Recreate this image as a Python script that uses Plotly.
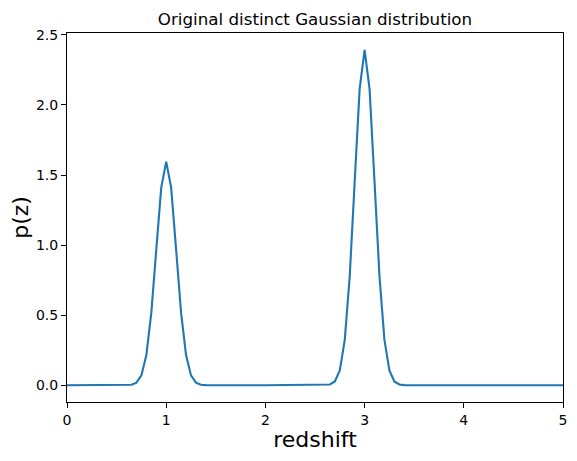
"""Original distinct Gaussian distribution - p(z) vs redshift."""

import plotly.graph_objects as go

# redshift grid, step 0.05 from 0 to 5
redshift = [round(i * 0.05, 2) for i in range(101)]

# p(z)
p_z = (
    [0.0] * 12
    + [0.0005, 0.0035, 0.018, 0.070, 0.216, 0.518, 0.968, 1.41, 1.596,
       1.41, 0.968, 0.518, 0.216, 0.070, 0.018, 0.0035, 0.0005]
    + [0.0] * 23
    + [0.0008, 0.0052, 0.027, 0.105, 0.324, 0.777, 1.452, 2.115, 2.394,
       2.115, 1.452, 0.777, 0.324, 0.105, 0.027, 0.0052, 0.0008]
    + [0.0] * 32
)

x_ticks = [0, 1, 2, 3, 4, 5]
y_ticks = [0.0, 0.5, 1.0, 1.5, 2.0, 2.5]

FONT = "DejaVu Sans"

# the page body has an 8px margin, so the figure is 8px smaller each way
W, H = 569, 453

fig = go.Figure()
fig.add_trace(
    go.Scatter(
        x=redshift,
        y=p_z,
        mode="lines",
        line={"color": "#1f77b4", "width": 2.1},
        showlegend=False,
    )
)

axis_common = {
    "showgrid": False,
    "zeroline": False,
    "showline": True,
    "linecolor": "black",
    "linewidth": 1,
    "mirror": True,
    "ticks": "outside",
    "ticklen": 5,
    "tickwidth": 1,
    "tickcolor": "black",
    "automargin": False,
    "tickfont": {"family": FONT, "size": 14, "color": "black"},
}

fig.update_layout(
    width=W,
    height=H,
    margin={"l": 59, "r": 14, "t": 25, "b": 59},
    paper_bgcolor="white",
    plot_bgcolor="white",
    font={"family": FONT, "color": "black"},
    title={
        "text": "Original distinct Gaussian distribution",
        "font": {"family": FONT, "size": 16.7, "color": "black"},
        "x": 307 / W,
        "xanchor": "center",
        "y": 1 - 11 / H,
        "yanchor": "middle",
    },
    xaxis={
        **axis_common,
        "range": [0, 5],
        "tickvals": x_ticks,
        "ticktext": [str(t) for t in x_ticks],
        "title": {"text": "redshift", "font": {"family": FONT, "size": 22}, "standoff": 4},
    },
    yaxis={
        **axis_common,
        "range": [-0.1197, 2.5137],
        "tickvals": y_ticks,
        "ticktext": [f"{t:.1f}" for t in y_ticks],
        "title": {"text": "p(z)", "font": {"family": FONT, "size": 22}, "standoff": 4},
    },
)

fig.write_html("out.html")
